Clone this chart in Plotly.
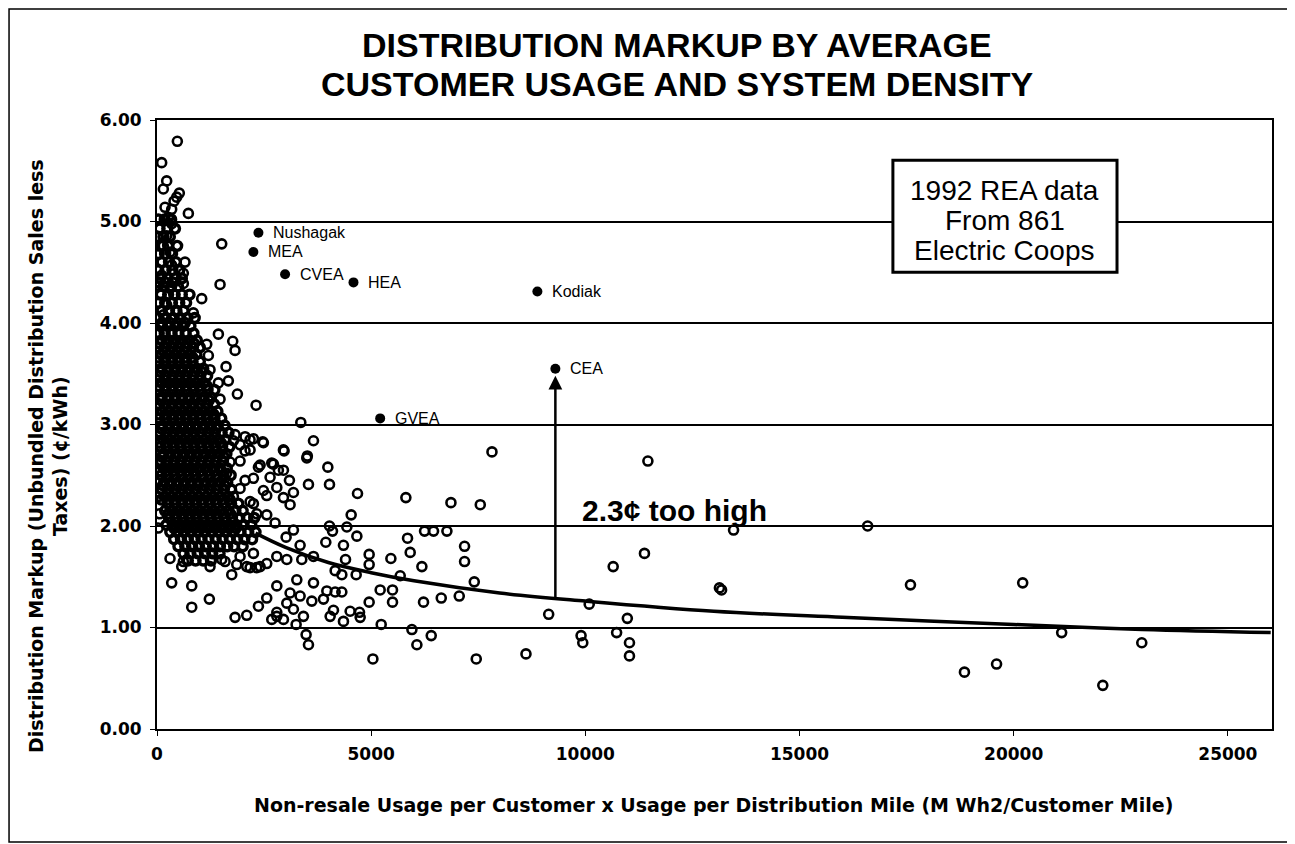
import plotly.graph_objects as go

# ---------------- data ----------------
# sparse points, right part of the chart
right_pts = [(11460,2.64),(13460,1.96),(16590,2.00),(11380,1.73),(10650,1.60),(13130,1.39),(13180,1.37),
             (17590,1.42),(20210,1.44),(10090,1.23),(10980,1.09),(9900,0.92),(9940,0.85),(10730,0.95),
             (11030,0.85),(11030,0.72),(21120,0.95),(22990,0.85),(18850,0.56),(19600,0.64),(22080,0.43)]

# middle region (about 2900 - 9400)
mid_pts = [(3357,3.02),(3653,2.84),(2967,2.74),(3497,2.67),(3510,2.69),(3988,2.58),(3536,2.41),(4027,2.41),
           (2952,2.55),(3092,2.45),(3185,2.33),(2952,2.28),(3107,2.21),(4681,2.32),(5810,2.28),(6862,2.23),
           (7547,2.21),(7820,2.73),(4533,2.11),(4027,2.00),(4097,1.95),(4432,1.99),(4666,1.90),(3185,1.96),
           (3014,1.89),(3341,1.81),(3941,1.84),(4353,1.81),(6246,1.95),(6456,1.95),(6768,1.95),(5849,1.88),
           (5911,1.74),(7180,1.80),(7180,1.65),(6184,1.60),(5460,1.68),(4953,1.72),(4953,1.62),(4401,1.67),
           (4159,1.56),(4315,1.52),(4650,1.52),(5678,1.51),(7407,1.45),(3653,1.70),(3380,1.67),(3030,1.67),
           (3264,1.47),(3653,1.44),(3965,1.36),(4159,1.35),(4315,1.35),(5210,1.37),(5498,1.37),(5498,1.25),
           (4953,1.25),(6222,1.25),(6636,1.29),(7056,1.31),(3107,1.34),(3341,1.31),(3614,1.26),(3886,1.28),
           (3030,1.24),(3185,1.18),(3419,1.11),(2952,1.08),(3248,1.03),(4042,1.11),(4120,1.17),(4353,1.06),
           (4509,1.16),(4743,1.10),(4728,1.15),(5234,1.03),(5951,0.98),(6067,0.83),(6402,0.92),(3481,0.93),
           (3536,0.83),(5040,0.69),(7453,0.69),(8614,0.74),(9144,1.13)]

# left region outside the dense core
left_pts = [(475,5.79),(109,5.58),(226,5.40),(148,5.32),(521,5.28),(460,5.24),(397,5.20),(187,5.14),
            (343,5.12),(732,5.08),(265,5.04),(343,4.98),(1511,4.78),(1472,4.38),(1044,4.24),(848,4.10),
            (654,4.60),(615,4.49),(615,4.39),(226,4.86),(148,4.76),(304,4.70),(343,4.57),(109,4.47),
            (70,4.29),(304,4.34),(421,4.28),(226,4.18),(460,4.11),(148,4.08),
            (1161,3.79),(1199,3.68),(1612,3.57),(1238,3.54),(1433,3.41),(1666,3.43),(1877,3.30),(1472,3.25),
            (2313,3.19),(1433,3.89),(1768,3.82),(1822,3.73),(1822,2.90),(2056,2.88),(2251,2.86),(2469,2.83),
            (2951,2.75),(1939,2.80),(2173,2.75),(2407,2.60),(2679,2.62),(2834,2.55),(2251,2.47),(2056,2.45),
            (1939,2.37),(2562,2.30),(2173,2.24),(1705,2.63),(1628,2.52),(1783,2.29),(2797,2.38),
            (2484,2.82),(2173,2.85),(2718,2.61),(2640,2.48),(2484,2.35),(2251,2.22),(2562,2.11),(2329,2.12),
            (2757,2.03),(2797,1.70),(2562,1.63),(2329,1.59),(2095,1.60),(1939,1.70),(1745,1.52),(1511,1.67),
            (1238,1.60),(304,1.68),(577,1.60),(694,1.67),(343,1.44),(811,1.41),(1222,1.28),(811,1.20),
            (1822,1.10),(2095,1.12),(2368,1.21),(2562,1.29),(2797,1.41),(2797,1.11),(1783,2.84),(2056,2.74),
            (1939,2.64),(2368,2.58),(615,1.65),(2679,1.08),(2797,1.15),(1589,1.65),(1862,1.62),(2173,1.59),
            (2407,1.60),(2251,1.73),(30,2.29),(60,2.12),(40,2.45),(70,2.62),(30,1.98)]

# dense core of the cloud (x < ~2300)
core_pts = [
 (30,5.02),(180,5.02),(330,5.02),(60,4.93),(240,4.93),(420,4.93),(20,4.85),(150,4.85),(300,4.85),
 (90,4.76),(260,4.76),(470,4.76),(40,4.68),(190,4.68),(350,4.68),(110,4.60),(280,4.60),(440,4.60),
 (30,4.52),(200,4.52),(360,4.52),(520,4.52),(80,4.44),(250,4.44),(420,4.44),(580,4.44),
 (20,4.36),(160,4.36),(330,4.36),(490,4.36),(90,4.28),(260,4.28),(400,4.28),(580,4.28),(760,4.28),
 (40,4.20),(190,4.20),(350,4.20),(520,4.20),(680,4.20),(110,4.12),(280,4.12),(450,4.12),(620,4.12),
 (30,4.05),(200,4.05),(370,4.05),(540,4.05),(710,4.05),(880,4.05),(90,3.97),(260,3.97),(430,3.97),(600,3.97),(780,3.97),
 (40,3.90),(180,3.90),(340,3.90),(500,3.90),(670,3.90),(850,3.90),
 (110,3.83),(270,3.83),(430,3.83),(590,3.83),(760,3.83),(930,3.83),
 (30,3.76),(190,3.76),(350,3.76),(510,3.76),(680,3.76),(840,3.76),(1000,3.76),
 (100,3.69),(260,3.69),(420,3.69),(580,3.69),(750,3.69),(920,3.69),
 (40,3.62),(180,3.62),(340,3.62),(500,3.62),(660,3.62),(830,3.62),(1000,3.62),
 (110,3.55),(270,3.55),(430,3.55),(590,3.55),(760,3.55),(930,3.55),(1080,3.55),
 (50,3.48),(200,3.48),(360,3.48),(520,3.48),(680,3.48),(840,3.48),(1010,3.48),(1170,3.48),
 (120,3.41),(280,3.41),(440,3.41),(600,3.41),(760,3.41),(920,3.41),(1090,3.41),
 (40,3.34),(200,3.34),(360,3.34),(520,3.34),(680,3.34),(850,3.34),(1010,3.34),(1180,3.34),(1340,3.34),
 (110,3.27),(270,3.27),(430,3.27),(590,3.27),(760,3.27),(920,3.27),(1090,3.27),(1250,3.27),
 (50,3.20),(200,3.20),(360,3.20),(520,3.20),(680,3.20),(840,3.20),(1000,3.20),(1170,3.20),(1330,3.20),
 (120,3.13),(280,3.13),(440,3.13),(600,3.13),(760,3.13),(920,3.13),(1090,3.13),(1250,3.13),(1410,3.13),
 (60,3.06),(210,3.06),(370,3.06),(530,3.06),(690,3.06),(850,3.06),(1010,3.06),(1180,3.06),(1340,3.06),(1500,3.06),
 (130,2.99),(290,2.99),(450,2.99),(610,2.99),(770,2.99),(930,2.99),(1100,2.99),(1260,2.99),(1420,2.99),(1580,2.99),
 (70,2.92),(220,2.92),(380,2.92),(540,2.92),(700,2.92),(860,2.92),(1020,2.92),(1190,2.92),(1350,2.92),(1510,2.92),(1670,2.92),
 (140,2.85),(300,2.85),(460,2.85),(620,2.85),(780,2.85),(940,2.85),(1110,2.85),(1270,2.85),(1430,2.85),(1600,2.85),
 (80,2.78),(230,2.78),(390,2.78),(550,2.78),(710,2.78),(870,2.78),(1030,2.78),(1200,2.78),(1360,2.78),(1520,2.78),(1690,2.78),
 (150,2.71),(310,2.71),(470,2.71),(630,2.71),(790,2.71),(950,2.71),(1120,2.71),(1280,2.71),(1450,2.71),(1620,2.71),
 (90,2.64),(240,2.64),(400,2.64),(560,2.64),(720,2.64),(880,2.64),(1040,2.64),(1210,2.64),(1370,2.64),(1540,2.64),
 (160,2.57),(320,2.57),(480,2.57),(640,2.57),(800,2.57),(960,2.57),(1130,2.57),(1290,2.57),(1460,2.57),(1630,2.57),
 (100,2.50),(250,2.50),(410,2.50),(570,2.50),(730,2.50),(890,2.50),(1050,2.50),(1220,2.50),(1380,2.50),(1550,2.50),(1720,2.50),
 (170,2.43),(330,2.43),(490,2.43),(650,2.43),(810,2.43),(970,2.43),(1140,2.43),(1300,2.43),(1470,2.43),(1640,2.43),
 (110,2.36),(260,2.36),(420,2.36),(580,2.36),(740,2.36),(900,2.36),(1060,2.36),(1230,2.36),(1390,2.36),(1560,2.36),(1730,2.36),
 (180,2.29),(340,2.29),(500,2.29),(660,2.29),(820,2.29),(980,2.29),(1150,2.29),(1310,2.29),(1480,2.29),(1650,2.29),
 (250,2.22),(420,2.22),(580,2.22),(740,2.22),(900,2.22),(1060,2.22),(1230,2.22),(1390,2.22),(1560,2.22),(1730,2.22),(1900,2.22),
 (190,2.15),(350,2.15),(510,2.15),(670,2.15),(830,2.15),(990,2.15),(1160,2.15),(1320,2.15),(1490,2.15),(1660,2.15),(1830,2.15),(2000,2.15),
 (280,2.08),(440,2.08),(600,2.08),(760,2.08),(920,2.08),(1080,2.08),(1250,2.08),(1410,2.08),(1580,2.08),(1750,2.08),(1920,2.08),(2100,2.08),(2270,2.08),
 (220,2.01),(370,2.01),(530,2.01),(690,2.01),(850,2.01),(1010,2.01),(1180,2.01),(1340,2.01),(1510,2.01),(1680,2.01),(1850,2.01),(2020,2.01),(2200,2.01),
 (310,1.94),(470,1.94),(630,1.94),(790,1.94),(950,1.94),(1110,1.94),(1280,1.94),(1440,1.94),(1610,1.94),(1780,1.94),(1950,1.94),(2130,1.94),(2300,1.94),
 (400,1.87),(560,1.87),(720,1.87),(880,1.87),(1040,1.87),(1200,1.87),(1370,1.87),(1530,1.87),(1700,1.87),(1870,1.87),(2040,1.87),(2220,1.87),
 (500,1.80),(660,1.80),(820,1.80),(980,1.80),(1140,1.80),(1310,1.80),(1470,1.80),(1640,1.80),(1800,1.80),(2000,1.80),
 (620,1.73),(780,1.73),(950,1.73),(1120,1.73),(1290,1.73),(1460,1.73),(720,1.66),(900,1.66),(1080,1.66),(1260,1.66)]

# extra points filling the darkest part of the core
core_extra = [
 (50,4.40),(200,4.40),(370,4.40),(120,4.00),(300,4.00),(480,4.00),(650,4.00),
 (60,3.80),(220,3.80),(380,3.80),(540,3.80),(700,3.80),(860,3.80),
 (30,3.66),(190,3.66),(350,3.66),(510,3.66),(670,3.66),(830,3.66),
 (80,3.52),(240,3.52),(400,3.52),(560,3.52),(720,3.52),(880,3.52),(1040,3.52),
 (40,3.38),(200,3.38),(360,3.38),(520,3.38),(680,3.38),(840,3.38),(1000,3.38),(1160,3.38),
 (90,3.24),(250,3.24),(410,3.24),(570,3.24),(730,3.24),(890,3.24),(1050,3.24),(1210,3.24),
 (40,3.10),(200,3.10),(360,3.10),(520,3.10),(680,3.10),(840,3.10),(1000,3.10),(1160,3.10),(1320,3.10),
 (100,2.96),(260,2.96),(420,2.96),(580,2.96),(740,2.96),(900,2.96),(1060,2.96),(1220,2.96),(1380,2.96),
 (50,2.82),(210,2.82),(370,2.82),(530,2.82),(690,2.82),(850,2.82),(1010,2.82),(1170,2.82),(1330,2.82),(1490,2.82),
 (120,2.68),(280,2.68),(440,2.68),(600,2.68),(760,2.68),(920,2.68),(1080,2.68),(1240,2.68),(1400,2.68),(1560,2.68),
 (60,2.54),(220,2.54),(380,2.54),(540,2.54),(700,2.54),(860,2.54),(1020,2.54),(1180,2.54),(1340,2.54),(1500,2.54),
 (140,2.40),(300,2.40),(460,2.40),(620,2.40),(780,2.40),(940,2.40),(1100,2.40),(1260,2.40),(1420,2.40),(1580,2.40),
 (100,2.26),(260,2.26),(420,2.26),(580,2.26),(740,2.26),(900,2.26),(1060,2.26),(1220,2.26),(1380,2.26),(1540,2.26),(1700,2.26),
 (270,2.12),(430,2.12),(590,2.12),(750,2.12),(910,2.12),(1070,2.12),(1230,2.12),(1390,2.12),(1550,2.12),(1710,2.12),
 (400,1.98),(560,1.98),(720,1.98),(880,1.98),(1040,1.98),(1200,1.98),(1360,1.98),(1520,1.98),(1680,1.98),(1840,1.98)]

# highlighted (Alaska) utilities
named = ["Nushagak", "MEA", "CVEA", "HEA", "Kodiak", "CEA", "GVEA"]
named_x = [2368, 2250, 2990, 4587, 8880, 9300, 5210]
named_y = [4.89, 4.70, 4.48, 4.40, 4.31, 3.55, 3.06]

# fitted curve
trend_x = [2300, 3000, 4000, 5000, 6000, 8000, 10000, 13000, 16000, 20000, 23000, 26000]
trend_y = [1.93, 1.79, 1.64, 1.54, 1.46, 1.34, 1.26, 1.16, 1.10, 1.03, 0.98, 0.95]

arrow_x = 9300
arrow_base = 1.28
arrow_tip = 3.48

x_ticks = [0, 5000, 10000, 15000, 20000, 25000]
y_ticks = [0, 1, 2, 3, 4, 5, 6]

# ---------------- figure ----------------
core_all = core_pts + core_extra
outer_all = left_pts + mid_pts + right_pts

BOLD = "DejaVu Sans"
ARIAL = "Liberation Sans, Arial"

fig = go.Figure()
fig.add_trace(go.Scatter(x=[p[0] for p in core_all], y=[p[1] for p in core_all], mode="markers",
                         marker=dict(symbol="circle-open", size=9, color="black",
                                     line=dict(width=3.4, color="black")),
                         hoverinfo="skip", showlegend=False))
fig.add_trace(go.Scatter(x=[p[0] for p in outer_all], y=[p[1] for p in outer_all], mode="markers",
                         marker=dict(symbol="circle-open", size=9, color="black",
                                     line=dict(width=2.6, color="black")),
                         hoverinfo="skip", showlegend=False))
fig.add_trace(go.Scatter(x=trend_x, y=trend_y, mode="lines", line=dict(color="black", width=3.5),
                         line_shape="spline", hoverinfo="skip", showlegend=False))
fig.add_trace(go.Scatter(x=named_x, y=named_y, mode="markers",
                         marker=dict(symbol="circle", size=10, color="black"),
                         hoverinfo="skip", showlegend=False))

ann = []
for n, xv, yv in zip(named, named_x, named_y):
    ann.append(dict(x=xv, y=yv, xref="x", yref="y", text=n, showarrow=False,
                    xanchor="left", yanchor="middle", xshift=13,
                    font=dict(family=ARIAL, size=16, color="black")))

# arrow
ann.append(dict(x=arrow_x, y=arrow_tip, ax=arrow_x, ay=arrow_base, xref="x", yref="y",
                axref="x", ayref="y", text="", showarrow=True, arrowhead=2, arrowsize=1.1,
                arrowwidth=2.5, arrowcolor="black"))
ann.append(dict(x=9880, y=2.15, xref="x", yref="y", text="<b>2.3¢ too high</b>", showarrow=False,
                xanchor="left", yanchor="middle", font=dict(family=ARIAL, size=30, color="black")))

# title (two lines)
for t, yy in zip(["DISTRIBUTION MARKUP BY AVERAGE", "CUSTOMER USAGE AND SYSTEM DENSITY"], [1.1230, 1.0590]):
    ann.append(dict(x=0.4664, y=yy, xref="paper", yref="paper", text="<b>" + t + "</b>",
                    showarrow=False, xanchor="center", yanchor="middle",
                    font=dict(family=ARIAL, size=34, color="black")))

# info box text
for t, yy in zip(["1992 REA data", "From 861", "Electric Coops"], [0.885, 0.835, 0.785]):
    ann.append(dict(x=0.7605, y=yy, xref="paper", yref="paper", text=t, showarrow=False,
                    xanchor="center", yanchor="middle",
                    font=dict(family=ARIAL, size=28, color="black")))

# axis titles
ann.append(dict(x=-0.0978, y=0.448, xref="paper", yref="paper",
                text="<b>Distribution Markup (Unbundled Distribution Sales less<br>Taxes) (¢/kWh)</b>",
                showarrow=False, textangle=-90, xanchor="center", yanchor="middle",
                font=dict(family=BOLD, size=19, color="black")))
ann.append(dict(x=0.4995, y=-0.1248, xref="paper", yref="paper",
                text="<b>Non-resale Usage per Customer x Usage per Distribution Mile (M Wh2/Customer Mile)</b>",
                showarrow=False, xanchor="center", yanchor="middle",
                font=dict(family=BOLD, size=19, color="black")))

shapes = [
    dict(type="rect", xref="paper", yref="paper", x0=0.660, x1=0.861, y0=0.750, y1=0.934,
         line=dict(color="black", width=3), fillcolor="white", layer="above"),
    dict(type="rect", xref="paper", yref="paper", x0=-0.1327, x1=1.0161, y0=-0.1856, y1=1.1823,
         line=dict(color="black", width=1.5), fillcolor="rgba(0,0,0,0)", layer="above"),
]

# the page body adds an 8px offset, so the figure is 8px smaller than the window
fig.update_layout(
    width=1287, height=836,
    margin=dict(l=149, r=23, t=112, b=115),
    paper_bgcolor="white", plot_bgcolor="white",
    annotations=ann, shapes=shapes,
    xaxis=dict(range=[0, 26030], tickvals=x_ticks, ticktext=[str(v) for v in x_ticks],
               showgrid=False, zeroline=False, showline=True, linecolor="black", linewidth=2,
               mirror=True, ticks="outside", ticklen=5, tickcolor="black", ticklabelstandoff=4,
               tickfont=dict(family=BOLD, size=17, color="black", weight="bold")),
    yaxis=dict(range=[0, 6], tickvals=y_ticks, ticktext=[f"{v:.2f}" for v in y_ticks],
               showgrid=True, gridcolor="black", gridwidth=1.5, zeroline=False,
               showline=True, linecolor="black", linewidth=2, mirror=True,
               ticks="outside", ticklen=5, tickcolor="black", ticklabelstandoff=5,
               tickfont=dict(family=BOLD, size=17, color="black", weight="bold")),
)

fig.write_html("out.html")
